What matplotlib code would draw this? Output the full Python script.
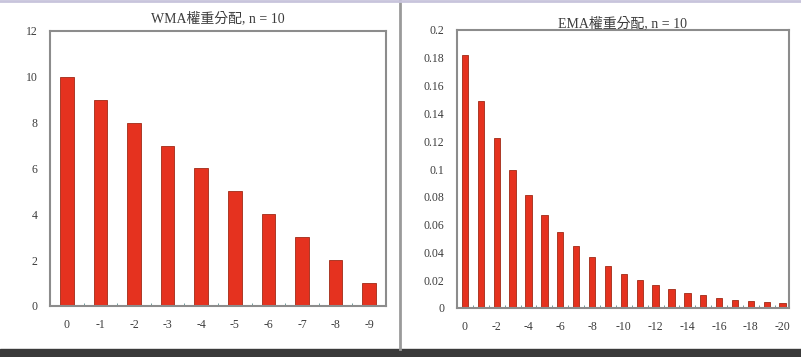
import numpy as np
import matplotlib.pyplot as plt
from matplotlib.patches import Rectangle
from matplotlib.lines import Line2D

plt.rcParams['font.family'] = ['Liberation Serif', 'Noto Sans CJK TC']

wma_lags = ['0', '-1', '-2', '-3', '-4', '-5', '-6', '-7', '-8', '-9']
wma_weights = [10, 9, 8, 7, 6, 5, 4, 3, 2, 1]

ema_lags = [str(-k) if k else '0' for k in range(21)]
ema_weights = [0.182, 0.149, 0.122, 0.0996, 0.0815, 0.0667, 0.0545, 0.0446,
               0.0365, 0.0299, 0.0244, 0.0200, 0.0164, 0.0134, 0.0110, 0.0090,
               0.0073, 0.0060, 0.0049, 0.0040, 0.0033]

red = '#e5321f'
edge = '#a02a16'
txt = '#3c3c3c'

fig = plt.figure(figsize=(8.01, 3.57), dpi=100)
fig.patch.set_facecolor('white')

# screenshot framing
fig.add_artist(Rectangle((0, 0), 1, 0.022, transform=fig.transFigure, color='#3a3a3a', zorder=0))
fig.add_artist(Line2D([400/801, 400/801], [0.022, 1], transform=fig.transFigure, color='#9a9a9a', lw=2))
fig.add_artist(Line2D([0, 1], [0.997, 0.997], transform=fig.transFigure, color='#c8c4dc', lw=2))

ax1 = fig.add_axes([50/801, 51/357, 336/801, 275/357])
ax2 = fig.add_axes([457/801, 49/357, 332/801, 278/357])

x1 = np.arange(len(wma_weights))
ax1.bar(x1, wma_weights, width=0.4, color=red, edgecolor=edge, linewidth=0.6)
ax1.set_xlim(-0.5, len(wma_weights) - 0.5)
ax1.set_ylim(0, 12)
ax1.set_yticks(range(0, 13, 2))
ax1.set_xticks(x1)
ax1.set_xticklabels(wma_lags)
ax1.set_xticks(x1[:-1] + 0.5, minor=True)
ax1.set_title('WMA權重分配, n = 10', fontsize=10, color=txt, pad=6)

x2 = np.arange(len(ema_weights))
ax2.bar(x2, ema_weights, width=0.4, color=red, edgecolor=edge, linewidth=0.6)
ax2.set_xlim(-0.5, len(ema_weights) - 0.6)
ax2.set_ylim(0, 0.2)
ax2.set_yticks(np.arange(0, 0.201, 0.02))
ax2.set_yticklabels(['0'] + ['%g' % v for v in np.round(np.arange(0.02, 0.201, 0.02), 2)])
ax2.set_xticks(x2[::2])
ax2.set_xticklabels(ema_lags[::2])
ax2.set_xticks(x2[:-1] + 0.5, minor=True)
ax2.set_title('EMA權重分配, n = 10', fontsize=10, color=txt, pad=1)

for ax in (ax1, ax2):
    for s in ax.spines.values():
        s.set_color('#8c8c8c')
        s.set_linewidth(1.5)
    ax.tick_params(axis='y', length=0, pad=9, labelsize=8.5, colors=txt)
    ax.tick_params(axis='x', which='major', length=0, pad=9, labelsize=8.5, colors=txt)
    ax.tick_params(axis='x', which='minor', length=2, direction='in', color='#5a8a8a')

fig.savefig('out.png', dpi=100)
